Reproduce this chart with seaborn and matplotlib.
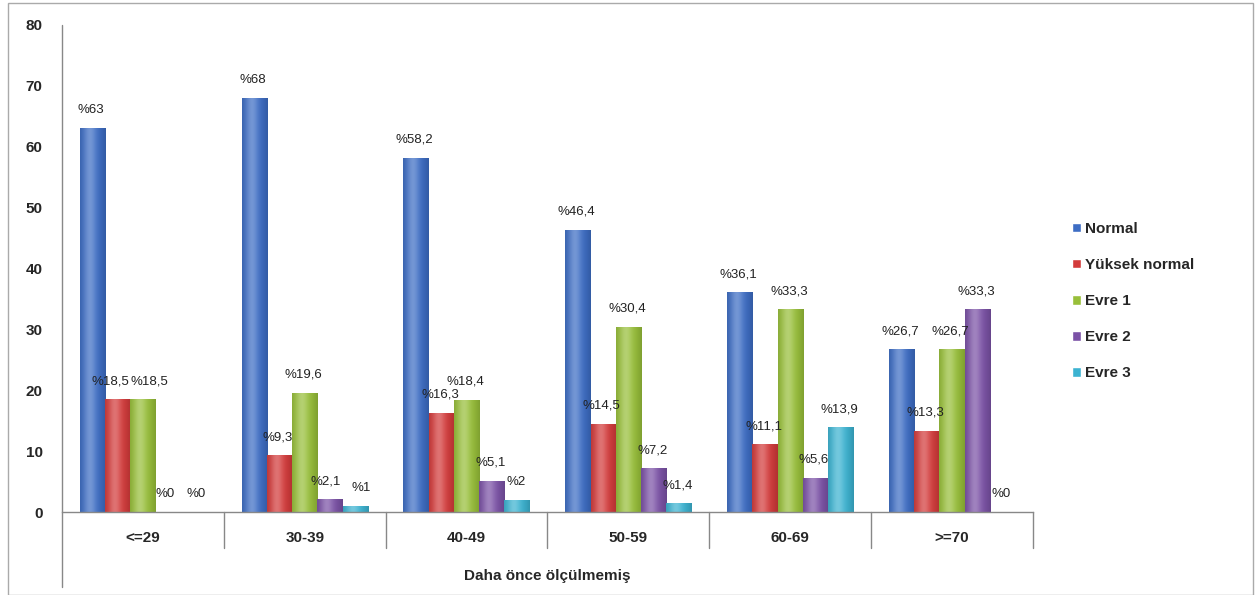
import numpy as np
import pandas as pd
import matplotlib
matplotlib.use("Agg")
import matplotlib.pyplot as plt
from matplotlib.lines import Line2D
from matplotlib.patches import Rectangle
from matplotlib.colors import to_rgb
import seaborn as sns

categories = ["<=29", "30-39", "40-49", "50-59", "60-69", ">=70"]
series_names = ["Normal", "Yüksek normal", "Evre 1", "Evre 2", "Evre 3"]
normal = [63, 68, 58.2, 46.4, 36.1, 26.7]
yuksek_normal = [18.5, 9.3, 16.3, 14.5, 11.1, 13.3]
evre1 = [18.5, 19.6, 18.4, 30.4, 33.3, 26.7]
evre2 = [0, 2.1, 5.1, 7.2, 5.6, 33.3]
evre3 = [0, 1, 2, 1.4, 13.9, 0]
y_ticks = [0, 10, 20, 30, 40, 50, 60, 70, 80]
x_title = "Daha önce ölçülmemiş"

colors = ["#3d6dc4", "#d33b3b", "#98bf3a", "#7b52a6", "#3cb3d1"]

values = [normal, yuksek_normal, evre1, evre2, evre3]
rows = []
for name, vals in zip(series_names, values):
    for cat, v in zip(categories, vals):
        rows.append({"Yaş": cat, "Değer": v, "Grup": name})
df = pd.DataFrame(rows)

sns.set_style("white")
plt.rcParams["font.family"] = ["Liberation Sans", "DejaVu Sans"]

fig = plt.figure(figsize=(12.6, 5.95), dpi=100)
W, H = 1260, 595
ax_left, ax_right, ax_top, ax_bot = 62, 1033, 25, 512
ax = fig.add_axes([ax_left / W, 1 - ax_bot / H, (ax_right - ax_left) / W, (ax_bot - ax_top) / H])

sns.barplot(data=df, x="Yaş", y="Değer", hue="Grup", order=categories,
            hue_order=series_names, palette=colors, width=0.78, saturation=1,
            ax=ax, legend=True, errorbar=None)

ax.set_xlim(-0.5, len(categories) - 0.5)
ax.set_ylim(0, 80)

# cylinder-like shading on each bar
def shade_cmap(c):
    base = np.array(to_rgb(c))
    n = 64
    t = np.linspace(0, 1, n)
    # light band left of centre, darker edges
    light = np.exp(-((t - 0.38) ** 2) / 0.06)
    dark = (np.abs(t - 0.45) ** 2) * 1.2
    rgb = base[None, :] * (1 - 0.45 * dark[:, None]) + (1 - base[None, :]) * 0.28 * light[:, None]
    return np.clip(rgb, 0, 1)

for cont, c in zip(ax.containers, colors):
    grad = shade_cmap(c)[None, :, :]
    for bar in cont:
        h = bar.get_height()
        if h <= 0:
            continue
        x0 = bar.get_x()
        im = ax.imshow(grad, extent=[x0, x0 + bar.get_width(), 0, h],
                       aspect="auto", zorder=bar.get_zorder() + 0.1,
                       interpolation="bilinear")
        im.set_clip_path(bar)

ax.set_xlim(-0.5, len(categories) - 0.5)
ax.set_ylim(0, 80)
ax.set_yticks(y_ticks)
ax.set_yticklabels([str(t) for t in y_ticks], fontweight="bold", fontsize=11)
ax.tick_params(axis="y", length=4, color="#888888", direction="out", pad=10)
ax.tick_params(axis="x", length=0, pad=14)
for lab in ax.get_xticklabels():
    lab.set_fontweight("bold")
    lab.set_fontsize(11)
ax.set_ylabel("")
ax.set_xlabel(x_title, fontweight="bold", fontsize=11)
ax.xaxis.set_label_coords(0.5, -0.118)

for s in ["top", "right", "left"]:
    ax.spines[s].set_visible(False)
ax.spines["bottom"].set_color("#888888")
ax.spines["bottom"].set_linewidth(1)

ax_h = ax_bot - ax_top
ax.add_line(Line2D([0, 0], [-75 / ax_h, 1], transform=ax.transAxes,
                   color="#888888", lw=1, clip_on=False))
trans = matplotlib.transforms.blended_transform_factory(ax.transData, ax.transAxes)
for b in np.arange(0.5, len(categories), 1.0):
    ax.add_line(Line2D([b, b], [0, -36 / ax_h], transform=trans,
                       color="#888888", lw=1, clip_on=False))

def fmt(v):
    if float(v).is_integer():
        return "%" + str(int(v))
    return "%" + ("%.1f" % v).replace(".", ",")

# small horizontal nudges where neighbouring labels would collide
nudge = {(1, 0): -5, (2, 0): 5, (3, 0): -2, (4, 0): 2, (3, 1): -3, (4, 1): 4}
for si, (cont, vals) in enumerate(zip(ax.containers, values)):
    for ci, (bar, v) in enumerate(zip(cont, vals)):
        x = bar.get_x() + bar.get_width() / 2
        dx = nudge.get((si, ci), -1)
        ax.annotate(fmt(v), (x, bar.get_height()), xytext=(dx, 13),
                    textcoords="offset points", ha="center", va="center",
                    fontsize=9.5, color="#222222", zorder=5)

leg = ax.legend(loc="upper left", bbox_to_anchor=(1058 / W, 1 - 208 / H),
                bbox_transform=fig.transFigure, frameon=False,
                handlelength=0.6, handleheight=0.6, handletextpad=0.25,
                labelspacing=1.45, prop={"weight": "bold", "size": 11})

fig.patches.append(Rectangle((8 / W, 0), (1253 - 8) / W, 1 - 3 / H,
                             transform=fig.transFigure, fill=False,
                             edgecolor="#aaaaaa", lw=1))

fig.savefig("out.png", dpi=100, facecolor="white")
